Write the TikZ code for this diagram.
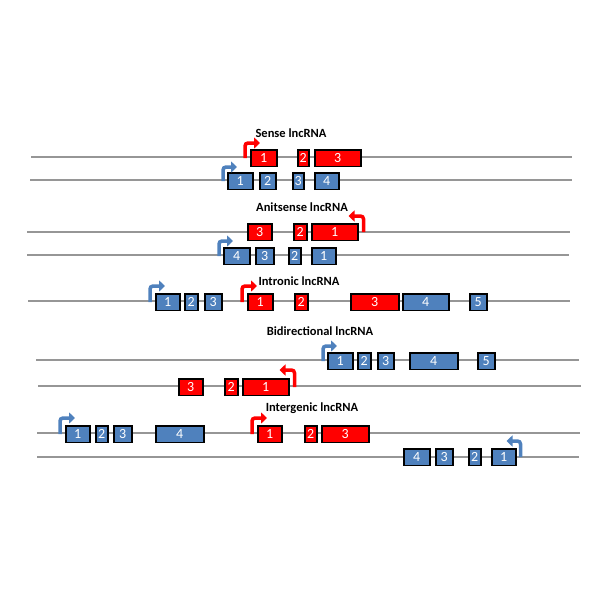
\documentclass[tikz,border=0pt]{standalone}
\usepackage{fontspec}
\setmainfont{Carlito}
\usetikzlibrary{arrows.meta}
\definecolor{RedClr}{RGB}{255,0,0}
\definecolor{BlueClr}{RGB}{79,129,189}
\definecolor{LineClr}{RGB}{150,150,150}

\tikzset{
  strand/.style={LineClr,line width=1.2pt},
  exon/.style={draw=black,line width=1.5pt,anchor=west,text=white,inner sep=0pt,
    minimum height=16.5pt,font=\fontsize{14}{14}\selectfont},
  redex/.style={exon,fill=RedClr},
  blueex/.style={exon,fill=BlueClr},
  tss/.style={line width=3.5pt,rounded corners=3pt,-{Triangle[length=6pt,width=11pt]}},
  tssR/.style={tss,RedClr},
  tssB/.style={tss,BlueClr},
  title/.style={font=\fontsize{12.5}{14}\selectfont\bfseries}
}

\begin{document}
\begin{tikzpicture}[x=1pt,y=-1pt]
\useasboundingbox (0,0) rectangle (600,600);

% strands
\draw[strand] (31,157) -- (572,157);
\draw[strand] (30,180) -- (572,180);
\draw[strand] (27,232) -- (570,232);
\draw[strand] (27,255) -- (569,255);
\draw[strand] (28,301) -- (570,301);
\draw[strand] (36,360) -- (579,360);
\draw[strand] (38,386) -- (581,386);
\draw[strand] (37,433) -- (580,433);
\draw[strand] (37,457) -- (579,457);

% sense
\node[title] (sTitle) at (291,133) {Sense lncRNA};
\node[redex,minimum width=26pt] (sR1) at (250,158) {1};
\node[redex,minimum width=11pt] (sR2) at (297,158) {2};
\node[redex,minimum width=46pt] (sR3) at (314,158) {3};
\node[blueex,minimum width=25pt] (sB1) at (227,181) {1};
\node[blueex,minimum width=16pt] (sB2) at (259,181) {2};
\node[blueex,minimum width=11pt] (sB3) at (292,181) {3};
\node[blueex,minimum width=24pt] (sB4) at (314,181) {4};
\draw[tssR] ([xshift=-5pt]sR1.west) |- ++(15,-15);
\draw[tssB] ([xshift=-4pt]sB1.west) |- ++(14,-14);

% antisense
\node[title] (aTitle) at (302,207) {Anitsense lncRNA};
\node[redex,minimum width=24pt] (aR3) at (247,232) {3};
\node[redex,minimum width=13pt] (aR2) at (293,232) {2};
\node[redex,minimum width=46pt] (aR1) at (311,232) {1};
\node[blueex,minimum width=26pt] (aB4) at (223,256) {4};
\node[blueex,minimum width=18pt] (aB3) at (255,256) {3};
\node[blueex,minimum width=12pt] (aB2) at (288,256) {2};
\node[blueex,minimum width=24pt] (aB1) at (311,256) {1};
\draw[tssR] ([xshift=5pt]aR1.east) |- ++(-15,-16);
\draw[tssB] ([xshift=-4pt]aB4.west) |- ++(14,-15);

% intronic
\node[title] (iTitle) at (299,281) {Intronic lncRNA};
\node[blueex,minimum width=24pt] (iB1) at (155,302) {1};
\node[blueex,minimum width=13pt] (iB2) at (184,302) {2};
\node[blueex,minimum width=17pt] (iB3) at (204,302) {3};
\node[redex,minimum width=25pt] (iR1) at (247,302) {1};
\node[redex,minimum width=13pt] (iR2) at (294,302) {2};
\node[redex,minimum width=48pt] (iR3) at (350,302) {3};
\node[blueex,minimum width=46pt] (iB4) at (402,302) {4};
\node[blueex,minimum width=17pt] (iB5) at (469,302) {5};
\draw[tssB] ([xshift=-5pt]iB1.west) |- ++(15,-16);
\draw[tssR] ([xshift=-5pt]iR1.west) |- ++(15,-16);

% bidirectional
\node[title] (bTitle) at (320,331) {Bidirectional lncRNA};
\node[blueex,minimum width=25pt] (bB1) at (327,361) {1};
\node[blueex,minimum width=13pt] (bB2) at (357,361) {2};
\node[blueex,minimum width=16pt] (bB3) at (377,361) {3};
\node[blueex,minimum width=48pt] (bB4) at (409,361) {4};
\node[blueex,minimum width=17pt] (bB5) at (477,361) {5};
\node[redex,minimum width=24pt] (bR3) at (178,387) {3};
\node[redex,minimum width=13pt] (bR2) at (224,387) {2};
\node[redex,minimum width=46pt] (bR1) at (242,387) {1};
\draw[tssB] ([xshift=-4pt]bB1.west) |- ++(14,-15);
\draw[tssR] ([xshift=5pt]bR1.east) |- ++(-15,-17);

% intergenic
\node[title] (gTitle) at (312,408) {Intergenic lncRNA};
\node[blueex,minimum width=24pt] (gB1) at (65,434) {1};
\node[blueex,minimum width=12pt] (gB2) at (95,434) {2};
\node[blueex,minimum width=18pt] (gB3) at (113,434) {3};
\node[blueex,minimum width=48pt] (gB4) at (155,434) {4};
\node[redex,minimum width=24pt] (gR1) at (257,434) {1};
\node[redex,minimum width=12pt] (gR2) at (304,434) {2};
\node[redex,minimum width=47pt] (gR3) at (321,434) {3};
\node[blueex,minimum width=26pt] (gC4) at (403,457) {4};
\node[blueex,minimum width=17pt] (gC3) at (435,457) {3};
\node[blueex,minimum width=12pt] (gC2) at (468,457) {2};
\node[blueex,minimum width=24pt] (gC1) at (491,457) {1};
\draw[tssB] ([xshift=-5pt]gB1.west) |- ++(15,-16);
\draw[tssR] ([xshift=-5pt]gR1.west) |- ++(15,-16);
\draw[tssB] ([xshift=4pt]gC1.east) |- ++(-14,-16);

\end{tikzpicture}
\end{document}
